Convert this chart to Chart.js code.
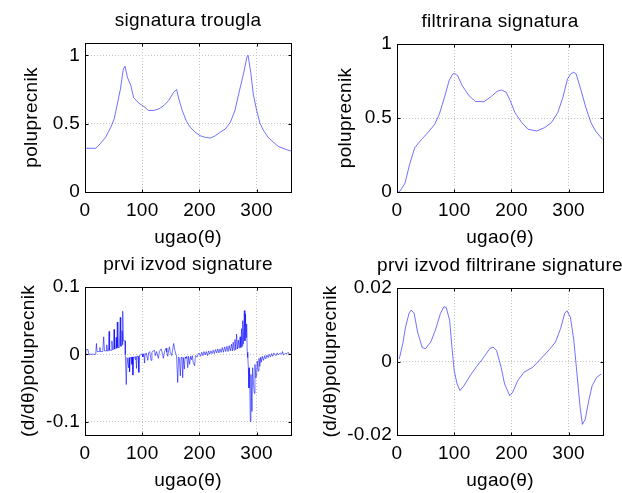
<!DOCTYPE html>
<html>
<head>
<meta charset="utf-8">
<script src="https://cdn.jsdelivr.net/npm/chart.js@4.4.0/dist/chart.umd.min.js"></script>
<style>
  html, body { margin: 0; padding: 0; background: #fff; }
  #wrap { position: relative; width: 622px; height: 493px; }
  #wrap canvas { position: absolute; left: 0; top: 0; }
</style>
</head>
<body>
<div id="wrap">
  <canvas id="c1" width="622" height="493"></canvas>
  <canvas id="c2" width="622" height="493"></canvas>
  <canvas id="c3" width="622" height="493"></canvas>
  <canvas id="c4" width="622" height="493"></canvas>
</div>
<script>
// osa x (ugao u stepenima)
const xTicks = [0, 100, 200, 300];

// signatura trougla
const sigDeg = [0, 10, 19, 27, 36, 45, 51, 56, 62, 67, 70, 74, 80, 85, 94, 103, 111, 120, 129, 138,
  146, 155, 160, 164, 170, 177, 184, 193, 201, 210, 219, 228, 236, 245, 254, 262, 270, 277, 283, 285,
  290, 294, 300, 306, 312, 320, 329, 338, 346, 352, 360];
const sigVal = [0.32, 0.32, 0.32, 0.355, 0.40, 0.473, 0.535, 0.633, 0.755, 0.90, 0.92, 0.84, 0.78, 0.69, 0.65, 0.625, 0.596, 0.596, 0.608, 0.633,
  0.669, 0.73, 0.75, 0.68, 0.596, 0.52, 0.473, 0.436, 0.412, 0.40, 0.395, 0.412, 0.436, 0.46, 0.51, 0.596, 0.743, 0.865, 0.988, 1.0,
  0.865, 0.718, 0.596, 0.5, 0.45, 0.40, 0.365, 0.333, 0.32, 0.31, 0.30];
const sigTicks = [0, 0.5, 1];
const sigLabels = ['0', '0.5', '1'];

// filtrirana signatura
const filtDeg = [2, 5, 14, 22, 31, 43, 54, 66, 74, 83, 91, 97, 100, 106, 114, 126, 137, 152, 163, 175,
  183, 191, 198, 206, 218, 229, 244, 258, 270, 281, 290, 298, 304, 309, 313, 321, 330, 339, 347, 359];
const filtVal = [0.0, 0.005, 0.06, 0.186, 0.299, 0.356, 0.401, 0.458, 0.526, 0.64, 0.752, 0.795, 0.802, 0.786, 0.718, 0.65, 0.612, 0.61, 0.64, 0.68,
  0.689, 0.673, 0.616, 0.537, 0.469, 0.424, 0.412, 0.435, 0.469, 0.537, 0.64, 0.764, 0.80, 0.809, 0.798, 0.696, 0.571, 0.469, 0.412, 0.356];
const filtTicks = [0, 0.5, 1];
const filtLabels = ['0', '0.5', '1'];

// prvi izvod signature
const derDeg = [
  0, 1.5, 5, 7, 18, 19, 20, 21, 25, 26, 27, 31, 32.7, 34, 37, 38, 39, 41, 42, 43,
  46, 47, 48, 50, 50.7, 51.5, 53.5, 54.5, 55.5, 56.5, 57.5, 60, 61.7, 62.5, 64, 64.8, 65.5, 66.3, 67, 70, 70.5,
  72.1, 73.5, 75, 76, 77, 77.9, 79, 81, 82, 83, 83.7, 85, 87, 88, 89, 90, 91, 93, 94.1, 95, 97, 98,
  100, 101, 103, 104, 105, 107, 109.8, 111, 113, 115.6, 117, 119, 121.4, 123, 125, 128.3, 130, 133, 135, 137,
  139, 141.7, 143, 144.6, 146, 147.5, 149, 151.5, 153, 155, 157, 159,
  160, 162, 163.5, 165, 166.6, 168, 169.5, 170.7, 172, 173.6, 175, 176.5, 178, 179.5, 181, 182.8, 184.5, 186, 187.5, 189,
  191.5, 193, 196, 198,
  200, 202, 204, 206, 208, 210, 212, 214, 216, 218, 220, 222, 224, 226, 228, 230, 232, 234, 236, 238,
  240, 242, 244, 246, 248, 250, 252, 254, 256, 257.5, 259, 260.5, 262, 263.5, 265, 266.5, 268, 269.5, 271, 272.5,
  273.5, 274.5, 275.6, 276.5, 278.5, 279.5, 280.5, 281.5, 282.5, 283.5,
  284.5, 285.5, 286.5, 287.5, 288.9, 290, 291.8, 293, 294.5, 295.9, 297, 298.5, 299.9, 301, 302.5, 304, 305.5, 307,
  308, 310, 312, 314, 316, 318, 320, 322, 324, 326, 328, 330, 333.6, 336, 338, 341, 344, 345.2, 347, 350, 353, 355, 357, 360];
const derVal = [
  0, 0.007, 0.007, 0, 0, 0.004, 0.016, 0.004, 0.004, 0.010, 0.004, 0.004, 0.026, 0.005, 0.005, 0.014, 0.005, 0.005, 0.034, 0.006,
  0.006, 0.02, 0.007, 0.007, 0.037, 0.008, 0.008, 0.025, 0.009, 0.048, 0.01, 0.01, 0.055, 0.012, 0.012, 0.035, 0.014, 0.064, 0.02, 0.02, 0,
  -0.045, -0.005, -0.005, -0.02, -0.005, -0.026, -0.005, -0.004, -0.015, -0.004, -0.031, -0.004, -0.004, -0.008, -0.003, -0.021, -0.003, -0.003, -0.027, -0.002, -0.001, 0,
  0, -0.004, 0.001, -0.013, -0.001, 0.002, -0.009, 0.002, 0.004, -0.009, 0.003, 0.005, 0.006, -0.002, 0.004, -0.006, 0.004, 0.008, 0.002, -0.006,
  0.004, 0.009, 0.003, -0.003, 0.005, 0.011, 0.003, -0.002, 0.006, 0.016, 0.006, 0,
  -0.002, -0.042, -0.004, -0.006, -0.032, -0.005, -0.004, -0.035, -0.005, -0.022, -0.004, -0.006, -0.003, -0.02, -0.003, -0.015, -0.003, -0.008, -0.002, -0.012,
  -0.017, -0.002, -0.004, 0.001,
  0.001, -0.003, 0.003, -0.002, 0.004, -0.001, 0.004, -0.002, 0.005, 0, 0.005, 0.001, 0.006, 0.001, 0.007, 0.002, 0.008, 0.002, 0.008, 0.003,
  0.01, 0.003, 0.011, 0.004, 0.012, 0.004, 0.013, 0.005, 0.015, 0.005, 0.018, 0.006, 0.022, 0.007, 0.03, 0.008, 0.021, 0.009, 0.026, 0.01,
  0.038, 0.012, 0.05, 0.015, 0.065, 0.02, 0.06, 0.025, 0.045, 0.003,
  -0.005, -0.02, -0.05, -0.02, -0.1, -0.03, -0.085, -0.02, -0.045, -0.058, -0.015, -0.035, -0.031, -0.01, -0.025, -0.006, -0.018, -0.004,
  -0.012, -0.003, -0.009, -0.002, -0.007, -0.001, -0.005, 0, -0.004, 0.001, -0.003, 0.002, -0.002, 0.002, -0.001, 0.002, 0, 0.004, -0.001, 0.001, 0.001, 0.003, 0, 0];
const derTicks = [-0.1, 0, 0.1];
const derLabels = ['-0.1', '0', '0.1'];

// prvi izvod filtrirane signature
const dfDeg = [4, 10, 15, 21, 25, 30, 36, 44, 50, 59, 67, 76, 82, 86, 92, 96, 100, 105, 110, 117,
  128, 139, 151, 162, 168, 174, 182, 188, 197, 202, 211, 222, 237, 251, 266, 277, 286, 293, 297, 303,
  309, 314, 320, 324, 329, 335, 341, 349, 357];
const dfVal = [0.0007, 0.0048, 0.0094, 0.0131, 0.014, 0.0131, 0.008, 0.0038, 0.0035, 0.0053, 0.0085, 0.0131, 0.0149, 0.0147, 0.0112, 0.0039, -0.0025, -0.0061, -0.0079, -0.0066,
  -0.0038, -0.0014, 0.001, 0.0035, 0.0039, 0.003, -0.0016, -0.0061, -0.0093, -0.0084, -0.0052, -0.0029, -0.0016, 0.0007, 0.0032, 0.0053, 0.009, 0.0131, 0.0138, 0.0121,
  0.0058, -0.0025, -0.0125, -0.0171, -0.0157, -0.0107, -0.0066, -0.0043, -0.0034];
const dfTicks = [-0.02, 0, 0.02];
const dfLabels = ['-0.02', '0', '0.02'];

const FONT = '"Liberation Sans", Arial, Helvetica, sans-serif';
const FSIZE = 19;
const SPACING = '0.3px';
const W = 622, H = 493;

// okvir u MATLAB stilu: crni okvir, crtice prema unutra, naslov
const matlabBox = {
  id: 'matlabBox',
  beforeLayout(chart) { chart.ctx.letterSpacing = SPACING; },
  beforeDraw(chart) { chart.ctx.letterSpacing = SPACING; },
  afterDraw(chart, args, opts) {
    const ctx = chart.ctx;
    const a = chart.chartArea;
    const l = Math.round(a.left) + 0.5, r = Math.round(a.right) + 0.5;
    const t = Math.round(a.top) + 0.5, b = Math.round(a.bottom) + 0.5;
    ctx.save();
    ctx.strokeStyle = '#000';
    ctx.lineWidth = 1;
    ctx.setLineDash([]);
    ctx.strokeRect(l, t, r - l, b - t);
    ctx.beginPath();
    xTicks.forEach(v => {
      const px = Math.round(chart.scales.x.getPixelForValue(v)) + 0.5;
      ctx.moveTo(px, b); ctx.lineTo(px, b - 3);
      ctx.moveTo(px, t); ctx.lineTo(px, t + 3);
    });
    opts.yTicks.forEach(v => {
      const py = Math.round(chart.scales.y.getPixelForValue(v)) + 0.5;
      ctx.moveTo(l, py); ctx.lineTo(l + 3, py);
      ctx.moveTo(r, py); ctx.lineTo(r - 3, py);
    });
    ctx.stroke();
    ctx.fillStyle = '#000';
    ctx.font = FSIZE + 'px ' + FONT;
    ctx.textAlign = 'center';
    ctx.textBaseline = 'middle';
    ctx.fillText(opts.title, (a.left + a.right) / 2, a.top - 22);
    ctx.restore();
  }
};

function makePlot(id, g, xs, ys, yMin, yMax, yTicks, yLabels, title, yTitle) {
  const lh = FSIZE * 1.2;
  const padLeft = g.yTitleX - lh / 2;
  const xAxisH = 46 + lh / 2;
  const txt = { family: FONT, size: FSIZE };
  new Chart(document.getElementById(id), {
    type: 'line',
    data: {
      datasets: [{
        data: xs.map((x, i) => ({ x: x, y: ys[i] })),
        borderColor: 'rgba(0, 0, 255, 0.7)',
        borderWidth: 0.8,
        pointRadius: 0,
        fill: false,
        tension: 0
      }]
    },
    options: {
      responsive: false,
      animation: false,
      events: [],
      layout: { padding: { left: padLeft, top: g.top, right: W - g.right, bottom: H - g.bottom - xAxisH } },
      plugins: {
        legend: { display: false },
        tooltip: { enabled: false },
        matlabBox: { title: title, yTicks: yTicks }
      },
      scales: {
        x: {
          type: 'linear', min: 0, max: 360,
          afterBuildTicks: s => { s.ticks = xTicks.map(v => ({ value: v })); },
          afterFit: s => { s.height = xAxisH; },
          ticks: { padding: 7, color: '#000', font: txt, maxRotation: 0, autoSkip: false, callback: v => String(v) },
          grid: { color: '#c4c4c4', drawTicks: false },
          border: { display: false, dash: [1, 2] },
          title: { display: true, text: 'ugao(θ)', color: '#000', font: txt, padding: 0 }
        },
        y: {
          type: 'linear', min: yMin, max: yMax,
          afterBuildTicks: s => { s.ticks = yTicks.map(v => ({ value: v })); },
          afterFit: s => { s.width = g.left - padLeft; },
          ticks: { padding: 5, color: '#000', font: txt, autoSkip: false, callback: (v, i) => yLabels[i] },
          grid: { color: '#c4c4c4', drawTicks: false },
          border: { display: false, dash: [1, 2] },
          title: { display: true, text: yTitle, color: '#000', font: txt, padding: 0 }
        }
      }
    },
    plugins: [matlabBox]
  });
}

makePlot('c1', { left: 85, right: 291, top: 43, bottom: 192, yTitleX: 31.5 },
  sigDeg, sigVal, 0, 1.09, sigTicks, sigLabels, 'signatura trougla', 'poluprecnik');
makePlot('c2', { left: 397, right: 603, top: 44, bottom: 192, yTitleX: 346 },
  filtDeg, filtVal, 0, 1, filtTicks, filtLabels, 'filtrirana signatura', 'poluprecnik');
makePlot('c3', { left: 85, right: 291, top: 287, bottom: 435, yTitleX: 29 },
  derDeg, derVal, -0.12, 0.1, derTicks, derLabels, 'prvi izvod signature', '(d/dθ)poluprecnik');
makePlot('c4', { left: 397, right: 603, top: 288, bottom: 435, yTitleX: 331 },
  dfDeg, dfVal, -0.02, 0.02, dfTicks, dfLabels, 'prvi izvod filtrirane signature', '(d/dθ)poluprecnik');
</script>
</body>
</html>
